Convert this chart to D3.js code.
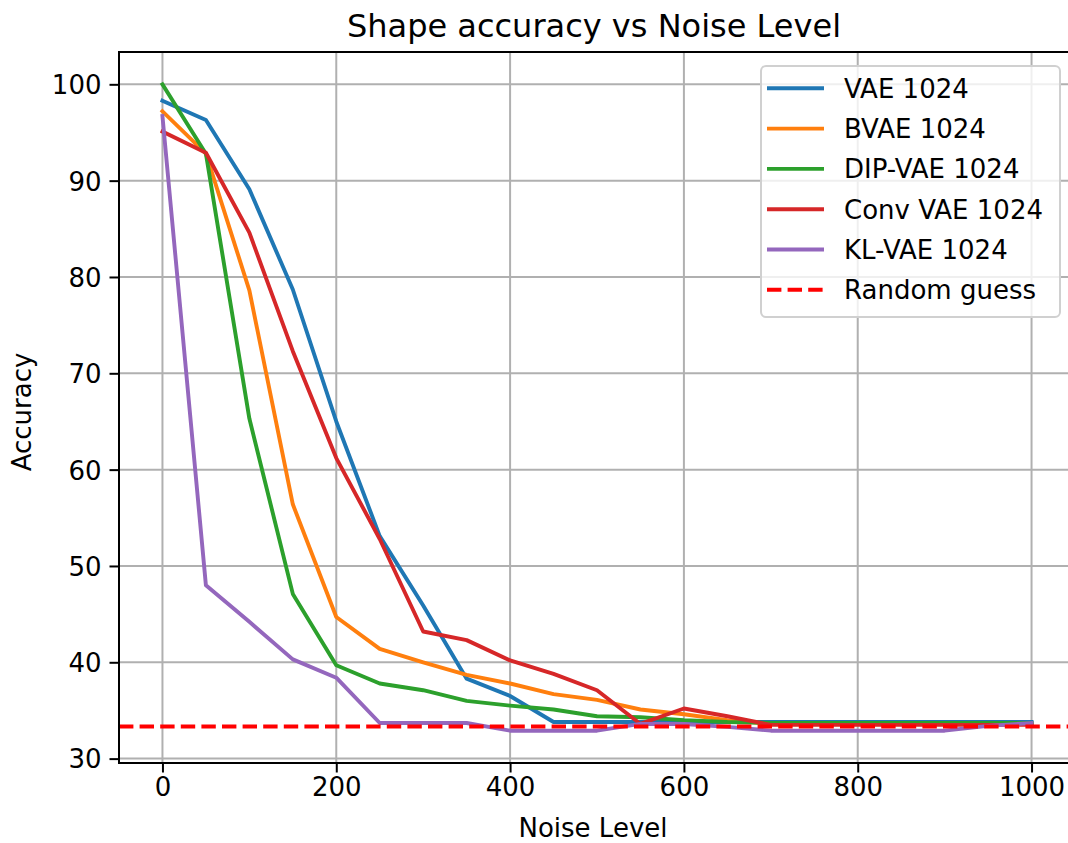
<!DOCTYPE html>
<html>
<head>
<meta charset="utf-8">
<script src="https://cdn.jsdelivr.net/npm/d3@7"></script>
<style>
  html, body { margin: 0; padding: 0; background: #fff; }
  svg { display: block; }
  text { font-family: "DejaVu Sans", sans-serif; fill: #000; }
</style>
</head>
<body>
<svg id="chart" width="1068" height="843"></svg>
<script>
// Noise levels sampled in the experiment
const noise = [0, 50, 100, 150, 200, 250, 300, 350, 400, 450, 500,
               550, 600, 650, 700, 750, 800, 850, 900, 950, 1000];

// Shape accuracy (%) per model at each noise level
const vae1024   = [98.3, 96.3, 89.1, 78.7, 65.0, 53.1, 45.9, 38.3, 36.5, 33.8, 33.8,
                   33.8, 33.8, 33.8, 33.8, 33.8, 33.8, 33.8, 33.8, 33.8, 33.8];
const bvae1024  = [97.2, 92.8, 78.6, 56.4, 44.7, 41.4, 40.0, 38.7, 37.8, 36.7, 36.1,
                   35.1, 34.6, 34.0, 33.6, 33.6, 33.6, 33.6, 33.6, 33.6, 33.6];
const dip1024   = [100.0, 92.8, 65.3, 47.1, 39.7, 37.8, 37.1, 36.0, 35.5, 35.1, 34.4,
                   34.3, 34.0, 33.8, 33.7, 33.7, 33.7, 33.7, 33.7, 33.7, 33.7];
const conv1024  = [95.1, 92.9, 84.6, 72.3, 61.2, 52.8, 43.2, 42.3, 40.2, 38.8, 37.1,
                   33.6, 35.2, 34.4, 33.5, 33.5, 33.5, 33.5, 33.5, 33.5, 33.5];
const kl1024    = [96.7, 48.0, 44.2, 40.3, 38.4, 33.7, 33.7, 33.7, 32.9, 32.9, 32.9,
                   33.6, 33.6, 33.3, 32.9, 32.9, 32.9, 32.9, 32.9, 33.4, 33.7];

const seriesNames  = ["VAE 1024", "BVAE 1024", "DIP-VAE 1024", "Conv VAE 1024", "KL-VAE 1024"];
const seriesValues = [vae1024, bvae1024, dip1024, conv1024, kl1024];
const seriesColors = ["#1f77b4", "#ff7f0e", "#2ca02c", "#d62728", "#9467bd"];

const randomGuess = 100 / 3;
const randomLabel = "Random guess";

const xTicks = [0, 200, 400, 600, 800, 1000];
const yTicks = [30, 40, 50, 60, 70, 80, 90, 100];

// ---- layout ----
const svg = d3.select("#chart");
const margin = { left: 119, top: 52 };
const plotW = 956, plotH = 711;
const fs = 26;          // tick / label / legend font size
const titleFs = 32;

// 5% padding around the data range on both axes
const xMin = d3.min(noise), xMax = d3.max(noise);
const xPad = (xMax - xMin) * 0.05;
const allVals = seriesValues.flat().concat([randomGuess]);
const yMin = d3.min(allVals), yMax = d3.max(allVals);
const yPad = (yMax - yMin) * 0.05;

const x = d3.scaleLinear().domain([xMin - xPad, xMax + xPad]).range([0, plotW]);
const y = d3.scaleLinear().domain([yMin - yPad, yMax + yPad]).range([plotH, 0]);

const g = svg.append("g").attr("transform", `translate(${margin.left},${margin.top})`);

svg.append("defs").append("clipPath").attr("id", "plotClip")
  .append("rect").attr("width", plotW).attr("height", plotH);

// grid
const grid = g.append("g");
grid.selectAll("line.gx").data(xTicks).join("line")
  .attr("x1", d => x(d)).attr("x2", d => x(d))
  .attr("y1", 0).attr("y2", plotH)
  .attr("stroke", "#b0b0b0").attr("stroke-width", 2);
grid.selectAll("line.gy").data(yTicks).join("line")
  .attr("x1", 0).attr("x2", plotW)
  .attr("y1", d => y(d)).attr("y2", d => y(d))
  .attr("stroke", "#b0b0b0").attr("stroke-width", 2);

// series lines
const line = d3.line().x((d, i) => x(noise[i])).y(d => y(d));
const lines = g.append("g").attr("clip-path", "url(#plotClip)");
seriesValues.forEach((vals, k) => {
  lines.append("path")
    .attr("d", line(vals))
    .attr("fill", "none")
    .attr("stroke", seriesColors[k])
    .attr("stroke-width", 3.9)
    .attr("stroke-linejoin", "round")
    .attr("stroke-linecap", "square");
});

// random-guess reference line
lines.append("line")
  .attr("x1", 0).attr("x2", plotW)
  .attr("y1", y(randomGuess)).attr("y2", y(randomGuess))
  .attr("stroke", "#ff0000").attr("stroke-width", 3.9)
  .attr("stroke-dasharray", "14.4,6.2");

// axes
const xAxis = d3.axisBottom(x).tickValues(xTicks).tickSize(9.5).tickPadding(6).tickFormat(d3.format("d"));
const yAxis = d3.axisLeft(y).tickValues(yTicks).tickSize(9.5).tickPadding(8).tickFormat(d3.format("d"));

const gx = g.append("g").attr("transform", `translate(0,${plotH})`).call(xAxis);
const gy = g.append("g").call(yAxis);
[gx, gy].forEach(a => {
  a.select(".domain").remove();
  a.selectAll(".tick line").attr("stroke", "#000").attr("stroke-width", 2);
  a.selectAll(".tick text").attr("font-size", fs).attr("font-family", "DejaVu Sans").attr("fill", "#000");
});
gx.selectAll(".tick text").attr("dy", null).attr("y", 9.5 + 5 + fs * 0.73);
gy.selectAll(".tick text").attr("dy", fs * 0.36);

// frame
g.append("rect").attr("x", 0).attr("y", 0).attr("width", plotW).attr("height", plotH)
  .attr("fill", "none").attr("stroke", "#000").attr("stroke-width", 2);

// title and axis labels
svg.append("text").attr("x", 594).attr("y", 36.5)
  .attr("text-anchor", "middle").attr("font-size", titleFs)
  .text("Shape accuracy vs Noise Level");
svg.append("text").attr("x", 593).attr("y", 837)
  .attr("text-anchor", "middle").attr("font-size", fs)
  .text("Noise Level");
svg.append("text").attr("transform", "translate(31,412) rotate(-90)")
  .attr("text-anchor", "middle").attr("font-size", fs)
  .text("Accuracy");

// legend
const legendItems = seriesNames.map((n, k) => ({ name: n, color: seriesColors[k], dash: null }))
  .concat([{ name: randomLabel, color: "#ff0000", dash: "14.4,6.2" }]);
const lg = svg.append("g").attr("transform", "translate(761,66)");
lg.append("rect").attr("width", 299).attr("height", 251).attr("rx", 5).attr("ry", 5)
  .attr("fill", "#fff").attr("fill-opacity", 0.8)
  .attr("stroke", "#d0d0d0").attr("stroke-width", 2);
const rowH = 40.3;
const items = lg.selectAll("g.item").data(legendItems).join("g")
  .attr("transform", (d, i) => `translate(0,${22.3 + i * rowH})`);
items.append("line")
  .attr("x1", 6).attr("x2", 63).attr("y1", 0).attr("y2", 0)
  .attr("stroke", d => d.color).attr("stroke-width", 3.9)
  .attr("stroke-dasharray", d => d.dash);
items.append("text")
  .attr("x", 83).attr("y", fs * 0.36)
  .attr("font-size", fs)
  .text(d => d.name);
</script>
</body>
</html>
